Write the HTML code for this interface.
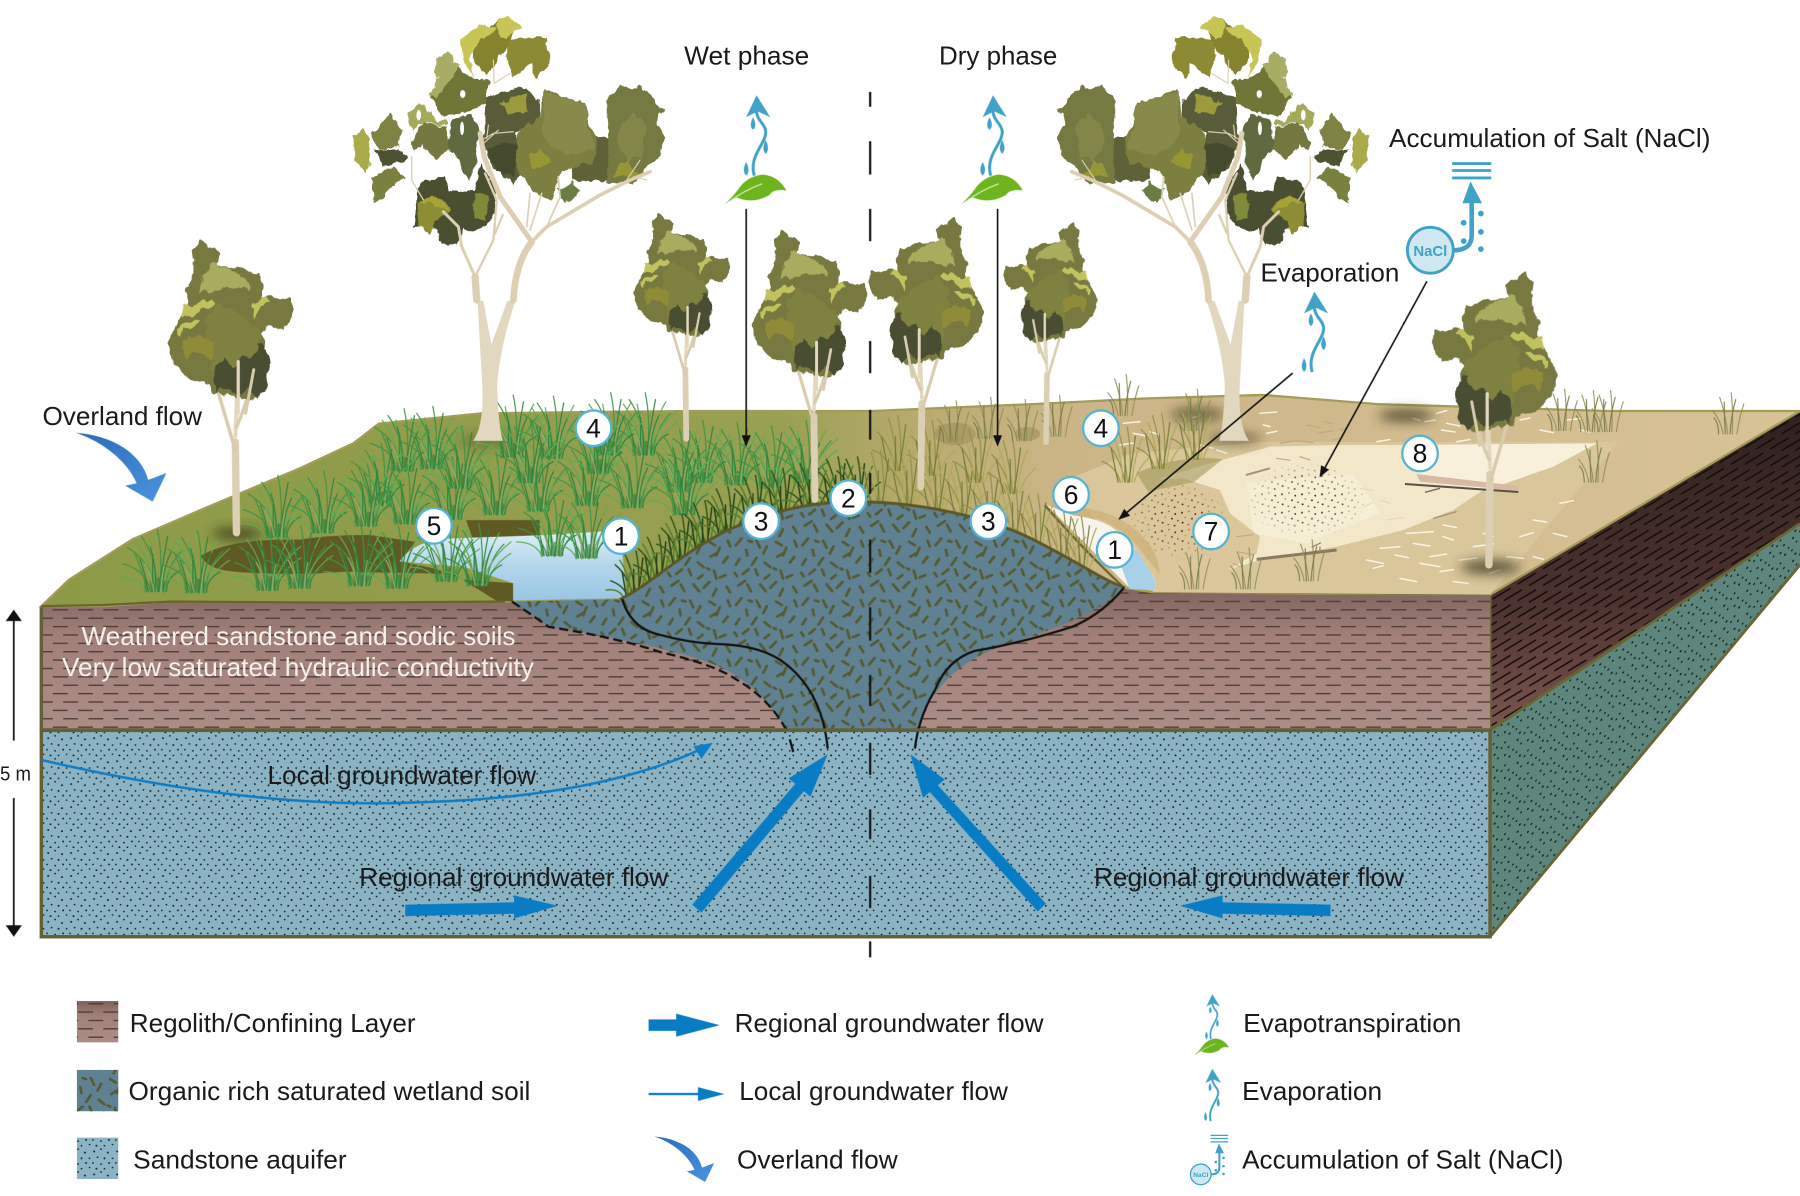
<!DOCTYPE html>
<html><head><meta charset="utf-8"><title>Wetland diagram</title>
<style>html,body{margin:0;padding:0;background:#fff}svg{display:block}
text{font-family:"Liberation Sans",sans-serif;font-size:22.5px;fill:#1a1a1a}
.n{font-size:23px;text-anchor:middle;fill:#111}
.c{fill:#fff;stroke:#58b2d6;stroke-width:2}
.w{fill:#f4f0ec}
</style></head><body>
<svg xmlns="http://www.w3.org/2000/svg" width="1800" height="1196" viewBox="0 0 1568 1041.8">
<defs>
<linearGradient id="gnd" x1="0" x2="1" y1="0" y2="0"><stop offset="0" stop-color="#8c9a46"/><stop offset=".42" stop-color="#98a052"/><stop offset=".5" stop-color="#baaa70"/><stop offset=".58" stop-color="#cbb587"/><stop offset="1" stop-color="#d8c297"/></linearGradient>
<linearGradient id="reg" x1="0" x2="0" y1="0" y2="1"><stop offset="0" stop-color="#7d625b"/><stop offset=".35" stop-color="#a2807a"/><stop offset="1" stop-color="#ac8d86"/></linearGradient>
<linearGradient id="sdr" x1="0" x2="0" y1="0" y2="1"><stop offset="0" stop-color="#2f211f"/><stop offset=".6" stop-color="#4c3330"/><stop offset="1" stop-color="#7d5650"/></linearGradient>
<linearGradient id="pool" x1="0" x2="0" y1="0" y2="1"><stop offset="0" stop-color="#dfeff7"/><stop offset=".5" stop-color="#b4d6ec"/><stop offset="1" stop-color="#9ac6e4"/></linearGradient>
<linearGradient id="ov" x1="0" x2="1" y1="0" y2="1"><stop offset="0" stop-color="#2c6bb8"/><stop offset="1" stop-color="#4a94e0"/></linearGradient>
<radialGradient id="rg"><stop offset="0" stop-color="#fff"/><stop offset=".6" stop-color="#bbb"/><stop offset="1" stop-color="#000"/></radialGradient>
<pattern id="dots" width="20" height="20" patternUnits="userSpaceOnUse"><g fill="#10222a"><circle cx="2" cy="3" r=".85"/><circle cx="8" cy="1" r=".75"/><circle cx="14" cy="4" r=".85"/><circle cx="18" cy="9" r=".75"/><circle cx="5" cy="8" r=".75"/><circle cx="11" cy="9" r=".85"/><circle cx="1" cy="13" r=".75"/><circle cx="8" cy="14" r=".75"/><circle cx="15" cy="13" r=".85"/><circle cx="4" cy="18" r=".85"/><circle cx="11" cy="18" r=".75"/><circle cx="18" cy="17" r=".75"/></g></pattern>
<pattern id="dotsS" width="20" height="20" patternUnits="userSpaceOnUse" patternTransform="skewY(-33)"><g fill="#10201f"><circle cx="2" cy="3" r=".9"/><circle cx="8" cy="1" r=".8"/><circle cx="14" cy="4" r=".9"/><circle cx="5" cy="8" r=".8"/><circle cx="11" cy="9" r=".9"/><circle cx="18" cy="9" r=".8"/><circle cx="1" cy="13" r=".8"/><circle cx="15" cy="13" r=".9"/><circle cx="4" cy="18" r=".9"/><circle cx="11" cy="18" r=".8"/></g></pattern>
<pattern id="dash" width="44" height="14.600" patternUnits="userSpaceOnUse" y="2"><g stroke="#4e3c38" stroke-width="1.100"><path d="M2 3.600h13M24 3.600h13M11 10.900h13M33 10.900h11M0 10.900h2"/></g></pattern>
<pattern id="dashS" width="44" height="14.600" patternUnits="userSpaceOnUse" patternTransform="skewY(-31)"><g stroke="#140c0b" stroke-width="1.500"><path d="M2 3.600h16M24 3.600h16M12 10.900h16M34 10.900h10M0 10.900h6"/></g></pattern>
<pattern id="soil" width="58" height="52" patternUnits="userSpaceOnUse"><g stroke="#565a33" stroke-width="2.300" stroke-linecap="round" fill="none"><path d="M3 7l5-6M12 11l1 5M21 3l3 6M30 8l-3 6M6 19l-3 5M17 24l4-6M28 22l5 4M9 32l5-4M22 33l-2-5M32 33l-4 3M14 3l3 1M2 31l2 3M38 4l5 3 M47 9l-3 7M54 3l2 5M39 17l5-3M50 22l4-5M42 29l2 7M52 33l-5 2M5 42l6-4M16 47l-3-6M24 41l5 6M33 44l5-5M44 45l-3 6M53 43l3 5M36 27l2 1"/></g></pattern>
<pattern id="stip" width="60" height="55" patternUnits="userSpaceOnUse"><circle cx="6" cy="8" r="3" fill="#3a2a14"/><circle cx="27" cy="4" r="2.600" fill="#8a6a2a"/><circle cx="46" cy="12" r="2.800" fill="#201608"/><circle cx="16" cy="22" r="2.600" fill="#b08a30"/><circle cx="36" cy="26" r="3" fill="#4a3418"/><circle cx="54" cy="32" r="2.600" fill="#6a5024"/><circle cx="8" cy="38" r="2.800" fill="#201608"/><circle cx="25" cy="44" r="2.600" fill="#7a5a24"/><circle cx="44" cy="47" r="2.800" fill="#3a2a14"/></pattern>
<filter id="lf" x="-12%" y="-12%" width="124%" height="124%"><feTurbulence type="fractalNoise" baseFrequency=".035 .02" numOctaves="3" seed="7"/><feDisplacementMap in="SourceGraphic" scale="28" xChannelSelector="R" yChannelSelector="G"/></filter>
<filter id="bl" x="-30%" y="-60%" width="160%" height="220%"><feGaussianBlur stdDeviation="5"/></filter>
<mask id="m1" maskUnits="userSpaceOnUse" x="300" y="150" width="500" height="300"><ellipse cx="560" cy="300" rx="185" ry="115" fill="url(#rg)"/></mask>
<mask id="m2" maskUnits="userSpaceOnUse" x="0" y="200" width="350" height="320"><ellipse cx="175" cy="360" rx="150" ry="120" fill="url(#rg)"/></mask>

<g id="g1" fill="none" stroke-linecap="round" stroke-width="1"><path stroke="#2f6f33" stroke-width="2.200" opacity=".55" d="M-8 0V-9M-3 0V-11M3 0V-11M8 0V-9"/><path stroke="#3f9346" d="M0 0Q-3-26-24-38M2 0Q1-30-12-48M-4 0Q-7-18-28-24M4 0Q7-32 2-54M-7 0Q-10-16-18-34M9 0Q10-22 24-36"/><path stroke="#5fab55" d="M-2 0Q-2-24-17-44M6 0Q8-26 20-46M8 0Q14-18 30-28M-8 0Q-14-12-30-12M1 0Q-1-24-5-44M5 0Q10-22 30-38"/><path stroke="#2f8240" d="M0 0Q2-18-4-38M3 0Q6-20 11-48M-6 0Q-8-14-13-28M10 0Q10-12 22-18M-2 0V-32M7 0Q6-18 14-34"/><path stroke="#a0a868" d="M-1 0Q-4-16-9-24M5 0Q6-12 8-22"/></g>
<g id="g2" fill="none" stroke-linecap="round" stroke-width="1.300"><path stroke="#33591f" d="M0 0Q-4-20-16-30M2 0Q0-24-8-40M-4 0Q-8-12-20-16M4 0Q6-24 2-42M8 0Q12-14 22-20"/><path stroke="#567f30" d="M-2 0Q-2-18-12-34M6 0Q8-20 15-34M-8 0Q-12-10-24-8M-5 0Q-6-14-2-26"/><path stroke="#28461c" d="M0 0V-26M3 0Q6-16 8-36M-6 0Q-8-12-10-24"/></g>
<g id="g3" fill="none" stroke-linecap="round" stroke-width="1"><path stroke="#8f9144" d="M0 0Q-4-22-16-34M2 0Q0-26-6-46M-4 0Q-8-14-20-18M4 0Q6-26 2-48"/><path stroke="#ada858" d="M-2 0Q-2-20-10-40M6 0Q8-22 15-38M8 0Q12-14 22-22"/><path stroke="#717a38" d="M0 0V-30M3 0Q6-16 9-40M-6 0Q-10-18-12-30"/></g>
<g id="g4" fill="none" stroke-linecap="round" stroke-width=".9"><path stroke="#918f55" d="M0 0Q-2-18-7-32M-4 0Q-6-12-13-20M4 0Q5-20 3-36M8 0Q10-14 14-26"/><path stroke="#737848" d="M-2 0Q-3-14-3-28M2 0Q3-16 7-30M-8 0Q-8-10-12-14"/></g>

<g id="smallTree">
<g fill="none" stroke-linecap="round"><path d="M206 464L205 385" stroke="#dcd0b4" stroke-width="6.500"/><path d="M205 392L189 338" stroke="#d8ccae" stroke-width="3"/><path d="M205 380L207.500 315" stroke="#e3d8be" stroke-width="3.400"/><path d="M206 372Q216 350 221 322" stroke="#d8ccae" stroke-width="3"/></g>
<g transform="translate(130.7,200.3) scale(.2904)"><g filter="url(#lf)">
<path fill="#77793f" d="M125,60 L150,38 L210,65 L200,100 L240,115 L330,130 L335,200 L420,205 L428,260 L400,300 L360,290 L330,310 L340,340 L360,380 L345,480 L300,510 L190,490 L175,460 L125,450 L70,400 L55,340 L85,270 L110,220 L110,180 L135,130 Z"/>
<path fill="#484d30" d="M195,390 L330,340 L360,370 L350,470 L320,505 L290,470 L270,500 L210,475 L195,490 Z"/>
<path fill="#7f813f" d="M170,260 L200,220 L270,250 L330,300 L330,370 L280,380 L250,420 L220,380 L190,420 L170,340 Z"/>
<path fill="#a9ac5e" d="M160,130 L190,95 L230,115 L290,150 L300,190 L280,170 L210,180 L150,190Z"/>
<path fill="#c1c25e" d="M95,230 L180,210 L190,225 L130,255 L95,260Z"/><path fill="#c1c25e" d="M80,295 L140,265 L150,280 L100,300 L90,330Z"/><path fill="#c1c25e" d="M300,230 L335,195 L360,215 L330,225 L315,270Z"/>
<path fill="#8f8b38" d="M90,340 L140,310 L190,335 L180,385 L130,365 L105,385Z"/>
</g></g>
<g fill="none" stroke-linecap="round"><path d="M207.500 360L207.500 315" stroke="#e3d8be" stroke-width="2.800"/><path d="M214 360L221 322" stroke="#d8ccae" stroke-width="2.600"/></g>
</g>

<g id="bigTree">
<path d="M412,384 Q422,370 420,335 L416,262 L421,262 L428,300 L442,262 L449,262 Q436,300 433,335 Q434,370 438,384 Z" fill="#e2d7bf"/>
<g transform="translate(296.2,0) scale(.2904)">
<g filter="url(#lf)">
<path fill="#4c5030" d="M240,545 L310,530 L330,570 L400,570 L420,490 L470,560 L465,640 L410,700 L370,680 L350,740 L310,730 L290,690 L220,680 Z"/>
<path fill="#585c38" d="M440,290 L540,260 L600,300 L600,380 L530,400 L540,520 L520,550 L460,510 L430,420 Z"/>
<path fill="#454a2e" d="M440,440 L530,430 L520,530 L470,520Z"/>
<path fill="#5f6238" d="M680,420 L810,410 L810,540 L700,545 Z"/>
<path fill="#7d7f40" d="M610,270 L680,290 L730,310 L770,420 L760,490 L670,510 L630,600 L590,575 L530,520 L525,450 L540,390 L600,350Z"/>
<path fill="#888a4c" d="M610,280 L680,290 L735,320 L760,440 L700,470 L640,440 L610,400 Z"/>
<path fill="#757a42" d="M800,300 L840,260 L900,260 L945,300 L970,330 L950,380 L975,410 L960,460 L920,500 L880,550 L800,550 L810,420 L800,360Z"/>
<path fill="#84864a" d="M840,380 L880,340 L920,380 L905,470 L860,480 L830,420Z"/>
<path fill="#8c8a32" d="M500,120 L620,110 L630,190 L585,230 L570,190 L520,240 L500,170 Z"/>
<path fill="#85832e" d="M400,110 L480,60 L530,80 L510,120 L470,190 L440,230 L400,190 Z"/>
<path fill="#c6c557" d="M360,120 L430,70 L470,90 L410,130 L390,180 L410,230 L370,180 Z"/><path fill="#c6c557" d="M470,70 L500,45 L540,80 L500,115 L470,110Z"/>
<path fill="#6f7538" d="M280,260 L340,200 L450,250 L440,320 L400,320 L370,340 L310,350 L270,290Z"/>
<path fill="#a8ad66" d="M280,180 L320,160 L355,200 L330,240 L290,290 L270,280 L295,230Z"/>
<path fill="#74773f" d="M210,430 L250,365 L320,380 L340,440 L300,470 L280,480 L250,440 L220,450 Z"/>
<path fill="#a4aa5c" d="M205,340 L240,305 L290,360 L320,360 L330,380 L260,365 L210,390Z"/>
<path fill="#5e6b3f" d="M340,360 L390,340 L420,400 L410,480 L390,540 L350,490 L330,440Z"/>
<path fill="#a9ab4b" d="M40,410 L70,390 L90,420 L85,520 L45,480Z"/>
<path fill="#7e8345" d="M95,400 L150,340 L185,390 L180,440 L120,450 Z"/>
<path fill="#4d5230" d="M100,450 L190,450 L200,480 L130,500Z"/>
<path fill="#7a8040" d="M95,535 L160,500 L195,530 L150,560 L105,615Z"/>
<path fill="#8d8d35" d="M235,600 L290,590 L340,620 L300,650 L265,700 L235,680Z"/>
<path fill="#a8a335" d="M240,600 L290,592 L335,625 L290,620Z"/>
<path fill="#7f8a3a" d="M400,580 L445,580 L430,660 L405,650Z"/>
<path fill="#6c7c45" d="M650,570 L700,550 L720,570 L680,610Z"/>
<path fill="#9b9a3c" d="M475,310 L550,280 L565,335 L510,340Z"/>
<path fill="#979636" d="M565,470 L600,445 L630,490 L580,510Z"/>
<path fill="#979636" d="M815,525 L860,475 L895,525 L860,530Z"/>
</g>
<g fill="#fff"><ellipse cx="368" cy="282" rx="8" ry="12"/><ellipse cx="236" cy="345" rx="7" ry="16"/><ellipse cx="366" cy="385" rx="6" ry="20"/></g>
<g fill="none" stroke="#dccfb4" stroke-linecap="round" stroke-linejoin="round">
<path d="M520,900 Q525,790 575,725" stroke-width="20"/>
<path d="M575,725 L480,590 L432,470 L420,400" stroke-width="15"/>
<path d="M575,725 L620,680 L780,585 L870,540 L930,515" stroke-width="11"/>
<path d="M560,680 L570,580M570,690 L605,580M620,680 L660,590 L655,530" stroke-width="5"/>
<path d="M410,900 L405,830" stroke-width="22"/>
<path d="M405,830 L365,740 L355,680 L310,635" stroke-width="9"/>
<path d="M405,830 L460,720 L470,600 L435,520M465,700 L488,645" stroke-width="7"/>
<path d="M215,470 L215,540 L250,600" stroke-width="4"/>
<path d="M425,420 L460,400 L520,395M440,415 L445,375M430,430 L475,390M860,540 L900,480M880,530 L920,540" stroke-width="3.500"/>
<path d="M460,180 L462,250L510,220" stroke-width="3.500"/>
</g>
</g>
</g>

<g id="stem"><g fill="none" stroke="#3fa2c6" stroke-width="2.600"><path d="M657 153C652 135 668 125 667 114C666 107 659 105 659 96"/></g><path fill="#3fa2c6" d="M659 83L671 102L660 97L650 102Z"/><g fill="#3fa2c6"><path d="M656 102Q652 110 656 113Q660 110 656 102Z"/><path d="M667 122Q663 130 667 134Q671 130 667 122Z"/><path d="M650 141Q646 149 650 153Q654 149 650 141Z"/></g></g>
<g id="leaf"><path fill="#6eb41f" d="M631 178Q638 172 643 165Q650 154 664 152Q678 153 685 166Q674 164 670 170Q656 178 642 172Q636 174 631 178Z"/><path d="M636 175Q648 166 664 160" stroke="#d5eeb0" stroke-width="1" fill="none"/></g>
<g id="ov1"><path fill="url(#ov)" d="M66 377C94 379 122 392 129 418L145 412L133 437L109 423L119 421C111 402 90 385 66 377Z"/></g>
<g id="salt"><g fill="none" stroke="#3fa2c6"><path d="M1266 218Q1282 218 1282 205V170" stroke-width="4"/><path d="M1265 142.500H1299M1265 148.500H1299M1265 155H1299" stroke-width="2.500"/></g><path fill="#3fa2c6" d="M1281 158L1291 177H1274Z"/><g fill="#3fa2c6"><circle cx="1275" cy="194" r="2.500"/><circle cx="1275" cy="210" r="2.500"/><circle cx="1290" cy="186" r="2.500"/><circle cx="1290" cy="202" r="2.500"/><circle cx="1290" cy="217" r="2.500"/></g><circle cx="1246" cy="218" r="20" fill="#d0e8f2" stroke="#3fa2c6" stroke-width="2.500"/></g>
<marker id="ah" markerWidth="12" markerHeight="12" refX="9" refY="4" orient="auto" markerUnits="userSpaceOnUse"><path d="M0 0L10 4L0 8Z" fill="#111"/></marker>
</defs>

<!-- side faces -->
<path d="M1298 518L1568 358V456L1298 636Z" fill="url(#sdr)"/><path d="M1298 518L1568 358V456L1298 636Z" fill="url(#dashS)"/>
<path d="M1298 636L1568 456V492L1298 816Z" fill="#5f867c"/><path d="M1298 636L1568 456V492L1298 816Z" fill="url(#dotsS)"/>
<path d="M1298 636L1568 456M1298 816L1568 492M1298 518V816" stroke="#6a6537" stroke-width="2.500" fill="none"/>

<!-- front faces -->
<path d="M36 528L90 520L440 518L980 510L1005 514L1298 518V636H36Z" fill="url(#reg)"/><path d="M36 528L90 520L440 518L980 510L1005 514L1298 518V636H36Z" fill="url(#dash)"/>
<rect x="36" y="636" width="1262" height="180" fill="#8cb3c4"/><rect x="36" y="636" width="1262" height="180" fill="url(#dots)"/>
<rect x="36" y="636" width="1262" height="180" fill="none" stroke="#635f36" stroke-width="3"/>
<path d="M36 528V636" stroke="#635f36" stroke-width="3"/>

<!-- ground -->
<path d="M36 528L60 505L115 470L180 442L261 408L308 386L330 369L420 360L600 358L760 358L900 352L1000 347L1100 344L1200 352L1400 358L1568 358L1298 518L1005 516L980 512L540 522L440 524L300 525L150 524L90 528Z" fill="url(#gnd)" stroke="#a49c5a" stroke-width="2"/>
<path d="M36 528L90 527L150 524L300 525L440 524" fill="none" stroke="#6a6530" stroke-width="2"/>
<path d="M1005 516L1100 516L1298 518" fill="none" stroke="#7a7040" stroke-width="2"/>

<!-- tan surface -->
<path d="M925 420L985 395L1100 385L1410 385L1298 518L1005 516L970 470Z" fill="#dac69b"/>
<g transform="translate(975.6,348.4) scale(.2904)">
<path fill="#f2e7c9" d="M110,575 L420,480 L650,440 L850,390 L1000,330 L1090,270 L1300,200 L1430,130 L900,135 L650,135 L450,140 L270,190 L120,235 L40,250Z"/>
<path fill="#f8f0da" d="M850,135 L1430,130 L1300,200 L1100,270 L900,230Z"/>
<path fill="#f8f0da" d="M380,250 L700,220 L780,340 L560,430 L400,400Z" opacity=".8"/>
<path fill="#dcc79c" d="M0,240 L190,235 L300,270 L330,340 L420,410 L410,460 L270,540 L150,575 L110,575 L100,520 L30,440 L0,380 Z"/>
<rect x="340" y="170" width="440" height="260" fill="url(#stip)" mask="url(#m1)"/>
<rect x="20" y="230" width="310" height="250" fill="url(#stip)" mask="url(#m2)"/>
<g fill="none" stroke="#f9f3e2" stroke-width="4.500" stroke-linecap="round">
<path d="M740,480l50,10M780,445l60,-5M860,400l80,-5M825,465l40,8M880,430l50,8M930,470l50,-8M760,505l30,-8M840,535l50,10M900,490l60,10M960,515l40,-6M970,375l40,8M1000,420l-30,-10M1020,480l50,-6M1060,440l60,-8M1090,400l30,10M1000,545l45,5M1110,520l30,-10M1160,470l50,5M1200,410l40,-12M1240,470l30,8M1240,360l40,6M1320,310l40,-8M1300,400l40,10"/>
<path d="M10,70l50,-5M40,100l40,8M0,135l40,-6M90,95l30,10M210,55l30,-8M420,40l50,-4M430,75l20,5M440,100l30,-6M240,135l40,10M290,150l30,10M770,125l40,-6M880,55l20,6M915,65l30,-5M950,40l30,-8M965,90l40,6M1010,125l40,-6M980,70l40,8M1200,60l30,-6M1260,90l40,8M1340,60l40,-4M1380,90l30,6"/>
</g>
<g fill="none" stroke="#c4a883" stroke-width="3.500" stroke-linecap="round"><path d="M480,130l45,-8M530,122l50,6M560,75l40,8M610,65l30,6M590,100l50,-8M470,175l40,6M540,170l30,10M640,120l30,-6M660,90l20,-6M350,410l50,-6M350,455l45,8M360,500l-20,-10"/></g>
<g fill="none" stroke="#e8d5b0" stroke-width="3" stroke-linecap="round"><path d="M720,265l40,6M780,300l30,10M800,360l50,-8M730,320l25,-10"/></g>
<path d="M890,222L1195,258L1195,272L900,245Z" fill="#d6baa5"/><path d="M855,252L1195,276" stroke="#5b5044" stroke-width="6"/><path d="M915,277L960,265" stroke="#7b6a58" stroke-width="4"/>
<path d="M410,478L650,450" stroke="#8b7a5f" stroke-width="9"/><path d="M575,442L603,428M600,440V450" stroke="#7b6a58" stroke-width="3"/>
<path d="M378,225L450,205" stroke="#a98e79" stroke-width="6"/><path d="M940,355L1010,335" stroke="#a98e79" stroke-width="4"/>
</g>

<!-- shadows -->
<g fill="#2e2a12" filter="url(#bl)" opacity=".75"><ellipse cx="207" cy="465" rx="22" ry="5"/><ellipse cx="1298" cy="494" rx="26" ry="6"/><ellipse cx="1043" cy="361" rx="24" ry="6" opacity=".8"/><ellipse cx="1225" cy="362" rx="24" ry="5"/><ellipse cx="1075" cy="382" rx="24" ry="5" opacity=".7"/><ellipse cx="425" cy="384" rx="26" ry="5" opacity=".5"/></g>
<ellipse cx="832" cy="378" rx="18" ry="10" fill="#a59361" opacity=".7"/><ellipse cx="895" cy="378" rx="11" ry="6" fill="#a59361" opacity=".7"/><path d="M990 412Q1030 395 1065 400L1040 420L1000 428Z" fill="#9a9254" opacity=".55"/>

<!-- ponds -->
<path d="M175 484Q195 472 240 470L262 470Q285 466 322 466L362 472L348 489L378 495L405 505L447 508V524L432 523L395 500L300 498Q250 502 205 498Q180 496 175 484Z" fill="#5f5a24"/>
<path d="M406 453L470 453L470 468L412 470Z" fill="#5f5a24"/>
<path d="M348 489Q362 470 392 469L476 466L540 462L546 521L447 523V508L405 494Z" fill="url(#pool)"/>

<!-- right pool -->
<path d="M912 440L935 449Q960 452 972 462Q982 470 992 482L1006 505V514L984 512Z" fill="#f7f5ee"/>
<path d="M970 475Q985 472 992 482L1006 505V514L984 513Z" fill="#a9d0e9"/>
<path d="M930 446Q965 450 986 470L1010 500Q1010 480 990 462Q970 445 940 442Z" fill="#cdb27c" opacity=".8"/>
<path d="M910 440Q945 480 978 511" stroke="#6a6430" stroke-width="2" fill="none"/>

<!-- grass -->
<use href="#g1" x="445" y="398"/><use href="#g1" x="480" y="399"/><use href="#g1" x="560" y="396"/><use href="#g1" x="530" y="396"/><use href="#g1" x="350" y="410"/><use href="#g1" x="375" y="408"/><use href="#g1" x="610" y="420"/><use href="#g1" x="640" y="422"/><use href="#g1" x="590" y="428"/>
<use href="#g1" x="330" y="440"/><use href="#g1" x="240" y="468"/><use href="#g1" x="280" y="464"/><use href="#g1" x="318" y="458"/><use href="#g1" x="352" y="456"/><use href="#g1" x="392" y="452"/><use href="#g1" x="430" y="448"/><use href="#g1" x="468" y="445"/><use href="#g1" x="510" y="440"/><use href="#g1" x="550" y="442"/><use href="#g1" x="595" y="448"/><use href="#g1" x="670" y="425"/><use href="#g1" x="700" y="420"/><use href="#g1" x="460" y="420"/><use href="#g1" x="520" y="412"/><use href="#g1" x="400" y="425"/>
<use href="#g1" x="135" y="515"/><use href="#g1" x="170" y="516"/><use href="#g1" x="232" y="514"/><use href="#g1" x="260" y="512"/><use href="#g1" x="312" y="510"/><use href="#g1" x="345" y="512"/><use href="#g1" x="388" y="506"/><use href="#g1" x="415" y="510"/><use href="#g1" x="480" y="484"/><use href="#g1" x="510" y="486"/>
<use href="#g2" x="552" y="522"/><use href="#g2" x="572" y="508"/><use href="#g2" x="592" y="490"/><use href="#g2" x="612" y="478"/><use href="#g2" x="632" y="466"/><use href="#g2" x="656" y="456"/><use href="#g2" x="680" y="450"/><use href="#g2" x="705" y="444"/><use href="#g2" x="728" y="440"/><use href="#g2" x="745" y="440"/>
<use href="#g3" x="765" y="440"/><use href="#g3" x="790" y="440"/><use href="#g3" x="815" y="444"/><use href="#g3" x="838" y="450"/><use href="#g3" x="860" y="458"/><use href="#g3" x="882" y="468"/><use href="#g3" x="902" y="478"/><use href="#g3" x="924" y="490"/><use href="#g3" x="940" y="498"/><use href="#g3" x="780" y="410"/><use href="#g3" x="850" y="420"/><use href="#g3" x="880" y="430"/><use href="#g3" x="810" y="414"/>
<use href="#g3" x="980" y="420"/><use href="#g3" x="1010" y="408"/><use href="#g3" x="1040" y="400"/>
<use href="#g4" x="830" y="385"/><use href="#g4" x="860" y="382"/><use href="#g4" x="890" y="384"/><use href="#g4" x="920" y="380"/><use href="#g4" x="978" y="362"/><use href="#g4" x="1040" y="375"/><use href="#g4" x="1360" y="375"/><use href="#g4" x="1385" y="376"/><use href="#g4" x="1400" y="376"/><use href="#g4" x="1505" y="378"/><use href="#g4" x="1388" y="420"/><use href="#g4" x="1040" y="513"/><use href="#g4" x="1085" y="513"/><use href="#g4" x="1140" y="506"/>

<!-- trees -->
<use href="#bigTree"/>
<use href="#bigTree" transform="translate(1500,0) scale(-1,1)"/>
<use href="#smallTree"/>
<use href="#smallTree" transform="translate(597,383) scale(.77) translate(-205,-465)"/>
<use href="#smallTree" transform="translate(709,436) scale(.92) translate(-205,-465)"/>
<use href="#smallTree" transform="translate(803,425) scale(-.92,.92) translate(-205,-465)"/>
<use href="#smallTree" transform="translate(912,386) scale(-.75,.75) translate(-205,-465)"/>
<use href="#smallTree" transform="translate(1298,493) scale(-1,1) translate(-205,-465)"/>

<!-- soil dome -->
<path d="M446 524L540 522C570 508 600 474 650 455C690 440 720 437 745 437C800 437 860 450 900 470C940 490 960 505 980 512C960 530 930 545 880 560C845 572 815 590 798 636H685C670 610 650 590 620 578C590 566 520 552 478 546C465 536 455 530 446 524Z" fill="#5f8191"/>
<path d="M446 524L540 522C570 508 600 474 650 455C690 440 720 437 745 437C800 437 860 450 900 470C940 490 960 505 980 512C960 530 930 545 880 560C845 572 815 590 798 636H685C670 610 650 590 620 578C590 566 520 552 478 546C465 536 455 530 446 524Z" fill="url(#soil)"/>
<path d="M540 522C570 508 600 474 650 455C690 440 720 437 745 437C800 437 860 450 900 470C940 490 960 505 980 512" fill="none" stroke="#5c5729" stroke-width="2.500"/>
<path d="M446 524Q458 532 478 546Q540 556 575 568Q620 578 640 591Q670 608 685 636" fill="none" stroke="#141414" stroke-width="2" stroke-dasharray="8 4"/>
<path d="M542 522Q550 548 575 553Q600 560 625 561Q660 562 680 575Q716 600 721 652" fill="none" stroke="#141414" stroke-width="2"/>
<path d="M979 512Q960 535 934 546Q890 560 849 567Q825 575 815 600Q800 625 797 652" fill="none" stroke="#141414" stroke-width="2"/>
<path d="M688 644L691 655" stroke="#141414" stroke-width="2"/>
<path d="M36 636H1298" stroke="#635f36" stroke-width="3"/>

<!-- centre dashed -->
<path d="M758 80V93M758 123V152M758 182V210M758 297V325M758 357V383M758 412V430M758 470V499M758 529V558M758 588V615M758 647V675M758 705V731M758 763V791M758 820V834" stroke="#1a1a1a" stroke-width="2" fill="none"/>

<!-- blue arrows -->
<g fill="#0a7cc4">
<path d="M353 788L448 786V780L486 789L448 800V796L353 798Z"/>
<path d="M603 788L692.700 682.800L687 678L721 657L706 694L700.300 689.200L611 795Z"/>
<path d="M911 787L817 684L823 679L793 657L804 695L810 690L904 794Z"/>
<path d="M1159 788L1065 786V780L1028 789L1065 800V796L1159 798Z"/>
<path d="M565 888H589V883L627 893L589 903V898H565Z"/>
<path d="M565 952H608V947L631 953L608 959V954H565Z"/>
</g>
<path d="M36 662Q220 705 360 699Q520 695 612 652" fill="none" stroke="#0f7cc3" stroke-width="2.200"/>
<path d="M621 647L604 650L611 661Z" fill="#0f7cc3"/>
<use href="#ov1"/>
<use href="#ov1" transform="translate(570,990) scale(.66) translate(-66,-377)"/>

<!-- black arrows -->
<g stroke="#111" stroke-width="1.400" fill="none"><path d="M650 182V388" marker-end="url(#ah)"/><path d="M869 182V388" marker-end="url(#ah)"/><path d="M1126 325L975 452" marker-end="url(#ah)"/><path d="M1243 245L1150 415" marker-end="url(#ah)"/></g>
<g stroke="#111" stroke-width="1.500"><path d="M12 538V645M12 695V808"/></g><path d="M12 531L19 541H5ZM12 816L19 806H5Z" fill="#111"/>

<!-- icons -->
<use href="#stem"/><use href="#leaf"/>
<use href="#stem" transform="translate(206,0)"/><use href="#leaf" transform="translate(206,0)"/>
<use href="#stem" transform="translate(486,171)"/>
<use href="#salt"/>
<text x="1246" y="223" style="font-size:13px;font-weight:bold;fill:#3fa2c6" text-anchor="middle">NaCl</text>
<g transform="translate(1056,866) scale(.56) translate(-659,-83)"><use href="#stem"/><use href="#leaf"/></g>
<use href="#stem" transform="translate(1056,931) scale(.65) translate(-659,-83)"/>
<g transform="translate(1046,1023) scale(.45) translate(-1246,-218)"><use href="#salt"/><text x="1246" y="223" style="font-size:13px;font-weight:bold;fill:#3fa2c6" text-anchor="middle">NaCl</text></g>

<!-- legend swatches -->
<rect x="67" y="872" width="36" height="36" fill="url(#reg)"/><rect x="67" y="872" width="36" height="36" fill="url(#dash)"/>
<rect x="67" y="932" width="36" height="36" fill="#5f8191"/><rect x="67" y="932" width="36" height="36" fill="url(#soil)"/>
<rect x="67" y="991" width="36" height="36" fill="#8cb3c4"/><rect x="67" y="991" width="36" height="36" fill="url(#dots)"/>

<!-- numbered -->
<g>
<circle class="c" cx="517" cy="373" r="15.500"/><text class="n" x="517" y="381">4</text>
<circle class="c" cx="378" cy="458" r="15.500"/><text class="n" x="378" y="466">5</text>
<circle class="c" cx="541" cy="467" r="15.500"/><text class="n" x="541" y="475">1</text>
<circle class="c" cx="663" cy="454" r="15.500"/><text class="n" x="663" y="462">3</text>
<circle class="c" cx="739" cy="434" r="15.500"/><text class="n" x="739" y="442">2</text>
<circle class="c" cx="861" cy="454" r="15.500"/><text class="n" x="861" y="462">3</text>
<circle class="c" cx="959" cy="373" r="15.500"/><text class="n" x="959" y="381">4</text>
<circle class="c" cx="933" cy="431" r="15.500"/><text class="n" x="933" y="439">6</text>
<circle class="c" cx="971" cy="479" r="15.500"/><text class="n" x="971" y="487">1</text>
<circle class="c" cx="1055" cy="463" r="15.500"/><text class="n" x="1055" y="471">7</text>
<circle class="c" cx="1237" cy="395" r="15.500"/><text class="n" x="1237" y="403">8</text>
</g>

<!-- labels -->
<text x="596" y="56" textLength="109" lengthAdjust="spacingAndGlyphs">Wet phase</text>
<text x="818" y="56" textLength="103" lengthAdjust="spacingAndGlyphs">Dry phase</text>
<text x="1210" y="128" textLength="280" lengthAdjust="spacingAndGlyphs">Accumulation of Salt (NaCl)</text>
<text x="1098" y="245" textLength="121" lengthAdjust="spacingAndGlyphs">Evaporation</text>
<text x="37" y="370" textLength="139" lengthAdjust="spacingAndGlyphs">Overland flow</text>
<text class="w" x="71" y="562" textLength="378" lengthAdjust="spacingAndGlyphs">Weathered sandstone and sodic soils</text>
<text class="w" x="54" y="589" textLength="411" lengthAdjust="spacingAndGlyphs">Very low saturated hydraulic conductivity</text>
<text x="233" y="683" textLength="234" lengthAdjust="spacingAndGlyphs">Local groundwater flow</text>
<text x="313" y="772" textLength="269" lengthAdjust="spacingAndGlyphs">Regional groundwater flow</text>
<text x="953" y="772" textLength="270" lengthAdjust="spacingAndGlyphs">Regional groundwater flow</text>
<text x="0" y="680" textLength="27" lengthAdjust="spacingAndGlyphs" style="font-size:18px">5 m</text>
<text x="113" y="899" textLength="249" lengthAdjust="spacingAndGlyphs">Regolith/Confining Layer</text>
<text x="112" y="958" textLength="350" lengthAdjust="spacingAndGlyphs">Organic rich saturated wetland soil</text>
<text x="116" y="1018" textLength="186" lengthAdjust="spacingAndGlyphs">Sandstone aquifer</text>
<text x="640" y="899" textLength="269" lengthAdjust="spacingAndGlyphs">Regional groundwater flow</text>
<text x="644" y="958" textLength="234" lengthAdjust="spacingAndGlyphs">Local groundwater flow</text>
<text x="642" y="1018" textLength="140" lengthAdjust="spacingAndGlyphs">Overland flow</text>
<text x="1083" y="899" textLength="190" lengthAdjust="spacingAndGlyphs">Evapotranspiration</text>
<text x="1082" y="958" textLength="122" lengthAdjust="spacingAndGlyphs">Evaporation</text>
<text x="1082" y="1018" textLength="280" lengthAdjust="spacingAndGlyphs">Accumulation of Salt (NaCl)</text>
</svg>
</body></html>
